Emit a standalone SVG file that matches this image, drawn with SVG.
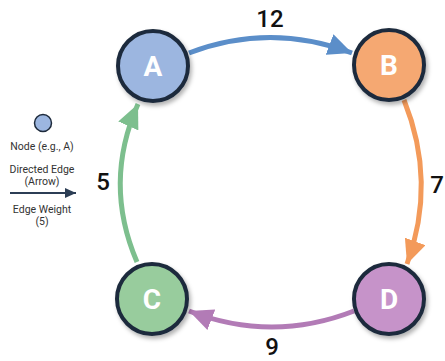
<svg xmlns="http://www.w3.org/2000/svg" width="445" height="361" viewBox="0 0 445 361">
<defs>
<style>
.node circle{stroke:#1e2b3c;stroke-width:4}
.node text{font-family:Roboto,"Liberation Sans",sans-serif;font-weight:bold;font-size:28px;fill:#fff;text-anchor:middle}
.edge{fill:none;stroke-width:5}
.w{font-family:Roboto,"Liberation Sans",sans-serif;font-size:24px;font-weight:500;fill:#111;text-anchor:middle}
.leg{font-family:Roboto,"Liberation Sans",sans-serif;font-size:10.5px;fill:#333;text-anchor:middle}
</style>
<filter id="sh" x="-30%" y="-30%" width="160%" height="160%">
<feDropShadow dx="2" dy="3" stdDeviation="2" flood-color="#000" flood-opacity="0.3"/>
</filter>
<marker id="mb" markerUnits="userSpaceOnUse" markerWidth="26" markerHeight="22" refX="24" refY="11" orient="auto"><path d="M0,0 L24,11 L0,22 z" fill="#5b8ec9"/></marker>
<marker id="mo" markerUnits="userSpaceOnUse" markerWidth="26" markerHeight="22" refX="24" refY="11" orient="auto"><path d="M0,0 L24,11 L0,22 z" fill="#f39a5a"/></marker>
<marker id="mp" markerUnits="userSpaceOnUse" markerWidth="26" markerHeight="22" refX="24" refY="11" orient="auto"><path d="M0,0 L24,11 L0,22 z" fill="#b27bb6"/></marker>
<marker id="mg" markerUnits="userSpaceOnUse" markerWidth="26" markerHeight="22" refX="24" refY="11" orient="auto"><path d="M0,0 L24,11 L0,22 z" fill="#7dbf8e"/></marker>
<marker id="ml" markerUnits="userSpaceOnUse" markerWidth="12" markerHeight="10" refX="11" refY="5" orient="auto"><path d="M0,0 L11,5 L0,10 z" fill="#2c3e55"/></marker>
</defs>
<rect width="445" height="361" fill="#ffffff"/>
<g id="connectors">
<path class="edge" d="M189,53 Q270,22 352,53" stroke="#5b8ec9" marker-end="url(#mb)"/>
<path class="edge" d="M404,100 Q437,182 407,264" stroke="#f39a5a" marker-end="url(#mo)"/>
<path class="edge" d="M354,311 Q272,343 189,311" stroke="#b27bb6" marker-end="url(#mp)"/>
<path class="edge" d="M137,262 Q103,183 138,104" stroke="#7dbf8e" marker-end="url(#mg)"/>
<text class="w" x="270" y="27">12</text>
<text class="w" x="437" y="193">7</text>
<text class="w" x="272" y="355">9</text>
<text class="w" x="103" y="190">5</text>
</g>
<g id="A" class="node"><circle cx="153" cy="66" r="35" fill="#9cb6e0" filter="url(#sh)"/><text x="153" y="76">A</text></g>
<g id="B" class="node"><circle cx="389" cy="65" r="35" fill="#f5a872" filter="url(#sh)"/><text x="389" y="75">B</text></g>
<g id="C" class="node"><circle cx="152" cy="299" r="35" fill="#98cc9d" filter="url(#sh)"/><text x="152" y="309">C</text></g>
<g id="D" class="node"><circle cx="389" cy="299" r="35" fill="#c693c9" filter="url(#sh)"/><text x="389" y="309">D</text></g>
<g id="legend">
<circle cx="43" cy="123" r="8.5" fill="#9cb6e0" stroke="#1e2b3c" stroke-width="1.5"/>
<text class="leg" x="42" y="150">Node (e.g., A)</text>
<text class="leg" x="42" y="173">Directed Edge</text>
<text class="leg" x="42" y="185">(Arrow)</text>
<line x1="10" y1="193" x2="76" y2="193" stroke="#2c3e55" stroke-width="2" marker-end="url(#ml)"/>
<text class="leg" x="42" y="213">Edge Weight</text>
<text class="leg" x="42" y="225">(5)</text>
</g>
</svg>
